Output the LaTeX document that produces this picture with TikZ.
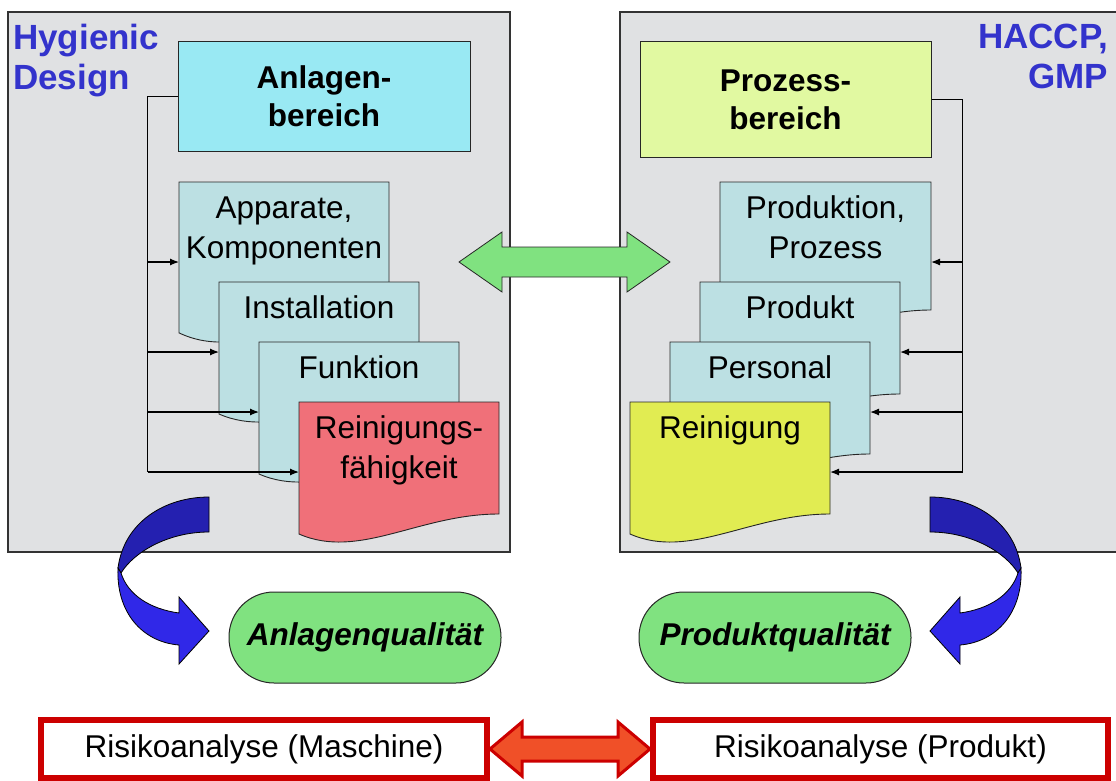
\documentclass[tikz,border=0pt]{standalone}
\usepackage{fontspec}
\setmainfont{Liberation Sans}
\usetikzlibrary{arrows.meta, calc}
\definecolor{PanelGray}{RGB}{224,225,227}
\definecolor{AnlCyan}{RGB}{153,233,243}
\definecolor{ProLime}{RGB}{225,249,161}
\definecolor{DocTeal}{RGB}{188,224,227}
\definecolor{DocRed}{RGB}{240,112,121}
\definecolor{DocYellow}{RGB}{225,236,82}
\definecolor{PillGreen}{RGB}{128,226,128}
\definecolor{TitleBlue}{RGB}{51,51,204}
\definecolor{SwooshDark}{RGB}{36,32,176}
\definecolor{SwooshBright}{RGB}{48,40,232}
\definecolor{RiskRed}{RGB}{204,0,0}
\definecolor{RiskOrange}{RGB}{240,80,40}

% document sheet with wavy bottom: name, x, y, width, height, fill, text
\newcommand{\docsheet}[7]{%
  \filldraw[fill=#6, draw=black!85, line width=0.9pt]
    (#2,#3) -- ({#2+#4},#3) -- ({#2+#4},{#3+0.8*#5})
    .. controls ({#2+0.6*#4},{#3+0.8*#5}) and ({#2+0.3*#4},{#3+1.13*#5}) ..
    (#2,{#3+0.943*#5}) -- cycle;
  \node[anchor=north west, inner sep=0pt, outer sep=0pt] (#1) at (#2,#3)
    {\parbox[c][#5pt][t]{#4pt}{\centering\vspace*{8pt}\strut #7}};
}

% curved blue arrow below a panel
\newcommand{\swoosh}{%
  \filldraw[fill=SwooshDark, draw=black, line width=0.8pt]
    (209,497) .. controls (165,497) and (124,522) .. (118,568)
    -- (121,573) .. controls (134,552) and (168,532) .. (209,532) -- cycle;
  \filldraw[fill=SwooshBright, draw=black, line width=0.8pt]
    (118,568) .. controls (116,612) and (142,642) .. (179,645)
    -- (179,664) -- (209,631) -- (179,597) -- (179,613)
    .. controls (150,609) and (128,595) .. (121,573) -- cycle;
}

\begin{document}
\begin{tikzpicture}[
  x=1pt, y=-1pt,
  every node/.style={font=\fontsize{31.5}{40}\selectfont},
  panel/.style={draw=black!80, fill=PanelGray, line width=1.2pt},
  title/.style={font=\bfseries\fontsize{35}{40}\selectfont, text=TitleBlue,
                inner sep=0pt},
  areabox/.style={draw=black!85, line width=1pt, align=center,
                  font=\bfseries\fontsize{31.5}{38}\selectfont},
  pill/.style={draw=black!85, line width=1pt, fill=PillGreen,
               minimum width=272pt, minimum height=91pt, rounded corners=45pt,
               font=\bfseries\itshape\fontsize{31.5}{36}\selectfont},
  riskbox/.style={draw=RiskRed, line width=6pt, fill=white,
                  minimum width=446pt, minimum height=58pt},
  wire/.style={line width=1.2pt},
  arr/.style={-{Latex[length=9pt, width=7pt]}, line width=1.2pt}
]
  \fill[white] (0,0) rectangle (1116,781);
  \useasboundingbox (0,0) rectangle (1116,781);

  %% panels
  \draw[panel] (8,12) rectangle (510,552);
  \draw[panel] (620,12) rectangle (1130,552);

  \node[title, anchor=north west, align=left] (hyg) at (13,24) {Hygienic\\Design};
  \node[title, anchor=north east, align=right] (hac) at (1108,24) {HACCP,\\GMP};

  %% area boxes
  \node[areabox, fill=AnlCyan, minimum width=292pt, minimum height=109pt]
    (anl) at (324,96.5) {Anlagen-\\bereich};
  \node[areabox, fill=ProLime, minimum width=291pt, minimum height=115pt]
    (pro) at (785.5,99.5) {Prozess-\\bereich};

  %% left stack
  \docsheet{app}{179}{182}{210}{160}{DocTeal}{Apparate,\\Komponenten}
  \docsheet{ins}{219}{282}{200}{140}{DocTeal}{Installation}
  \docsheet{fun}{259}{342}{200}{140}{DocTeal}{Funktion}
  \docsheet{fae}{299}{402}{200}{140}{DocRed}{Reinigungs-\\fähigkeit}

  %% right stack
  \docsheet{prd}{720}{182}{211}{160}{DocTeal}{Produktion,\\Prozess}
  \docsheet{pdk}{700}{282}{200}{140}{DocTeal}{Produkt}
  \docsheet{per}{670}{342}{200}{140}{DocTeal}{Personal}
  \docsheet{rei}{630}{402}{200}{140}{DocYellow}{Reinigung}

  %% feed lines
  \coordinate (lbus) at ($(anl.west)+(-30,0)$);
  \draw[wire] (anl.west) -- (lbus) -- (lbus |- fae.west);
  \foreach \s in {app,ins,fun,fae}
    \draw[arr] (lbus |- \s.west) -- (\s.west);

  \coordinate (rbus) at ($(pro.east)+(31,0)$);
  \draw[wire] (pro.east) -- (rbus) -- (rbus |- rei.east);
  \foreach \s in {prd,pdk,per,rei}
    \draw[arr] (rbus |- \s.east) -- (\s.east);

  %% exchange arrow between the panels
  \coordinate (link) at (564.5,262);
  \filldraw[fill=PillGreen, draw=black!85, line width=0.8pt]
    ($(link)+(-105.5,0)$) -- ++(43,-30) -- ++(0,15) -- ++(125,0) -- ++(0,-15)
    -- ++(43,30) -- ++(-43,30) -- ++(0,-15) -- ++(-125,0) -- ++(0,15) -- cycle;

  %% curved arrows
  \swoosh
  \begin{scope}[shift={(1139,0)}, xscale=-1]
    \swoosh
  \end{scope}

  %% quality
  \node[pill] (aq) at (365,637.5) {Anlagenqualität};
  \node[pill] (pq) at (775,637.5) {Produktqualität};

  %% risk analysis
  \node[riskbox] (rm) at (264,749) {Risikoanalyse (Maschine)};
  \node[riskbox, minimum width=455pt] (rp) at (880.5,749) {Risikoanalyse (Produkt)};
  \filldraw[fill=RiskOrange, draw=RiskRed, line width=3pt]
    (rm.east) -- ($(rm.east)+(32,-27)$) -- ($(rm.east)+(32,-12)$)
    -- ($(rp.west)+(-32,-12)$) -- ($(rp.west)+(-32,-27)$) -- (rp.west)
    -- ($(rp.west)+(-32,27)$) -- ($(rp.west)+(-32,12)$)
    -- ($(rm.east)+(32,12)$) -- ($(rm.east)+(32,27)$) -- cycle;
\end{tikzpicture}
\end{document}
